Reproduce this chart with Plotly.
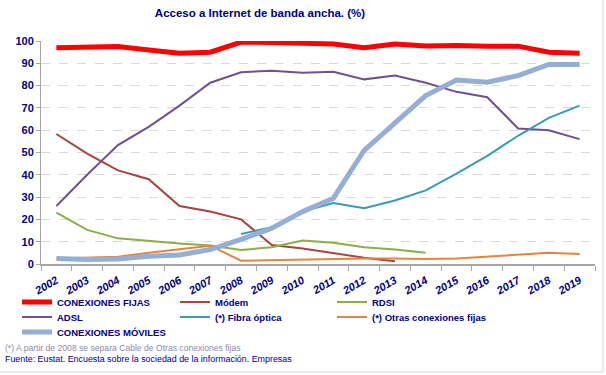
import plotly.graph_objects as go

years = [str(y) for y in range(2002, 2020)]

fijas = [97, 97.5, 97.5, 96, 94.5, 95, 99.5, 99.3, 99, 98.6, 97, 98.7, 97.8, 98, 97.6, 97.7, 95, 94.5]
modem = [58.3, 49.5, 42, 38, 26, 23.5, 20, 8.5, 7, 5, 2.8, 1.2, None, None, None, None, None, None]
rdsi = [23, 15.3, 11.5, 10.3, 9.2, 8.3, 6.3, 7.5, 10.5, 9.5, 7.5, 6.5, 5, None, None, None, None, None]
adsl = [26, 40, 53.3, 61.5, 71, 81.3, 86, 86.7, 85.8, 86.2, 82.8, 84.5, 81.3, 77.2, 74.8, 60.8, 60, 56]
fibra = [None, None, None, None, None, None, 13.5, 16.5, 23.5, 27.3, 25, 28.5, 33, 40.5, 48.5, 57.5, 65.5, 71]
otras = [2.5, 2.8, 3.2, 5, 6.5, 8.2, 1.5, 1.8, 2.2, 2.2, 2.5, 2.5, 2.2, 2.5, 3.3, 4.2, 5, 4.5]
moviles = [2.5, 2, 2.2, 3.5, 4, 6.5, 11, 16, 23.5, 29.5, 51, 63.5, 75.5, 82.5, 81.5, 84.5, 89.5, 89.5]

series = [
    ("CONEXIONES FIJAS", fijas, "#FF0000", 5),
    ("Módem", modem, "#A8433E", 2),
    ("RDSI", rdsi, "#8CAE48", 2),
    ("ADSL", adsl, "#6D5193", 2),
    ("(*) Fibra óptica", fibra, "#3A9BB2", 2),
    ("(*) Otras conexiones fijas", otras, "#E8843A", 2),
    ("CONEXIONES MÓVILES", moviles, "#94AED6", 5),
]

NAVY = "#000080"
FONT = "Liberation Sans, Arial, sans-serif"

L, R, T, B = 41, 11, 41, 111
W, H = 606, 375
pw, ph = W - L - R, H - T - B

def px_x(x):
    return (x - L) / pw

def px_y(y):
    return (H - B - y) / ph

# legend slot positions (text start x, row centre y) in pixels
text_x = [58, 216, 373]
row_y = [302, 317, 332]

fig = go.Figure()
legend_layouts = {}
for i, (name, vals, color, w) in enumerate(series):
    key = "legend" if i == 0 else f"legend{i + 1}"
    fig.add_trace(go.Scatter(x=years, y=vals, name=name, mode="lines",
                             line=dict(color=color, width=w),
                             connectgaps=False, legend=key))
    col, row = i % 3, i // 3
    legend_layouts[key] = dict(
        x=px_x(text_x[col] - 41), xanchor="left",
        y=px_y(row_y[row]), yanchor="middle",
        font=dict(family=FONT, size=9.5, color=NAVY, weight="bold"),
        bgcolor="rgba(0,0,0,0)", borderwidth=0, itemwidth=30,
    )

fig.update_layout(
    width=W, height=H,
    margin=dict(l=L, r=R, t=T, b=B),
    paper_bgcolor="white", plot_bgcolor="white",
    font=dict(family=FONT, color=NAVY),
    title=dict(text="Acceso a Internet de banda ancha. (%)",
               font=dict(family=FONT, size=11.5, color=NAVY, weight="bold"),
               x=260 / W, xanchor="center", xref="container",
               y=1 - 13 / H, yanchor="middle", yref="container"),
    showlegend=True,
    xaxis=dict(type="category", range=[-0.5, 17.5],
               showgrid=False, showline=True, linecolor="#A6A6A6", linewidth=2,
               ticks="outside", tickson="boundaries", ticklen=5, tickcolor="#A6A6A6",
               tickangle=-30, ticklabelstandoff=4,
               tickfont=dict(family=FONT, size=11, color=NAVY, weight="bold", style="italic"),
               fixedrange=True),
    yaxis=dict(range=[0, 100], dtick=10, tick0=0,
               showgrid=True, gridcolor="#D9D9D9", griddash="dash", gridwidth=1,
               showline=True, linecolor="#A6A6A6", linewidth=1,
               ticks="outside", ticklen=4, tickcolor="#A6A6A6",
               tickfont=dict(family=FONT, size=11, color=NAVY, weight="bold"),
               zeroline=False, fixedrange=True),
    annotations=[
        dict(text="(*) A partir de 2008 se separa Cable de Otras conexiones fijas",
             xref="paper", yref="paper", x=px_x(3), y=px_y(348),
             xanchor="left", yanchor="middle", showarrow=False,
             font=dict(family=FONT, size=8.6, color="#8A8AB0")),
        dict(text="Fuente: Eustat. Encuesta sobre la sociedad de la información. Empresas",
             xref="paper", yref="paper", x=px_x(3), y=px_y(359),
             xanchor="left", yanchor="middle", showarrow=False,
             font=dict(family=FONT, size=8.9, color=NAVY)),
    ],
    shapes=[
        dict(type="line", xref="paper", yref="paper",
             x0=px_x(603), x1=px_x(603), y0=px_y(0), y1=px_y(372),
             line=dict(color="#D9D9D9", width=1)),
        dict(type="line", xref="paper", yref="paper",
             x0=px_x(0), x1=px_x(603), y0=px_y(372), y1=px_y(372),
             line=dict(color="#D9D9D9", width=1)),
    ],
    **legend_layouts,
)

fig.write_html("out.html", config={"displayModeBar": False},
               post_script="document.body.style.margin='0';document.body.style.overflow='hidden';")
